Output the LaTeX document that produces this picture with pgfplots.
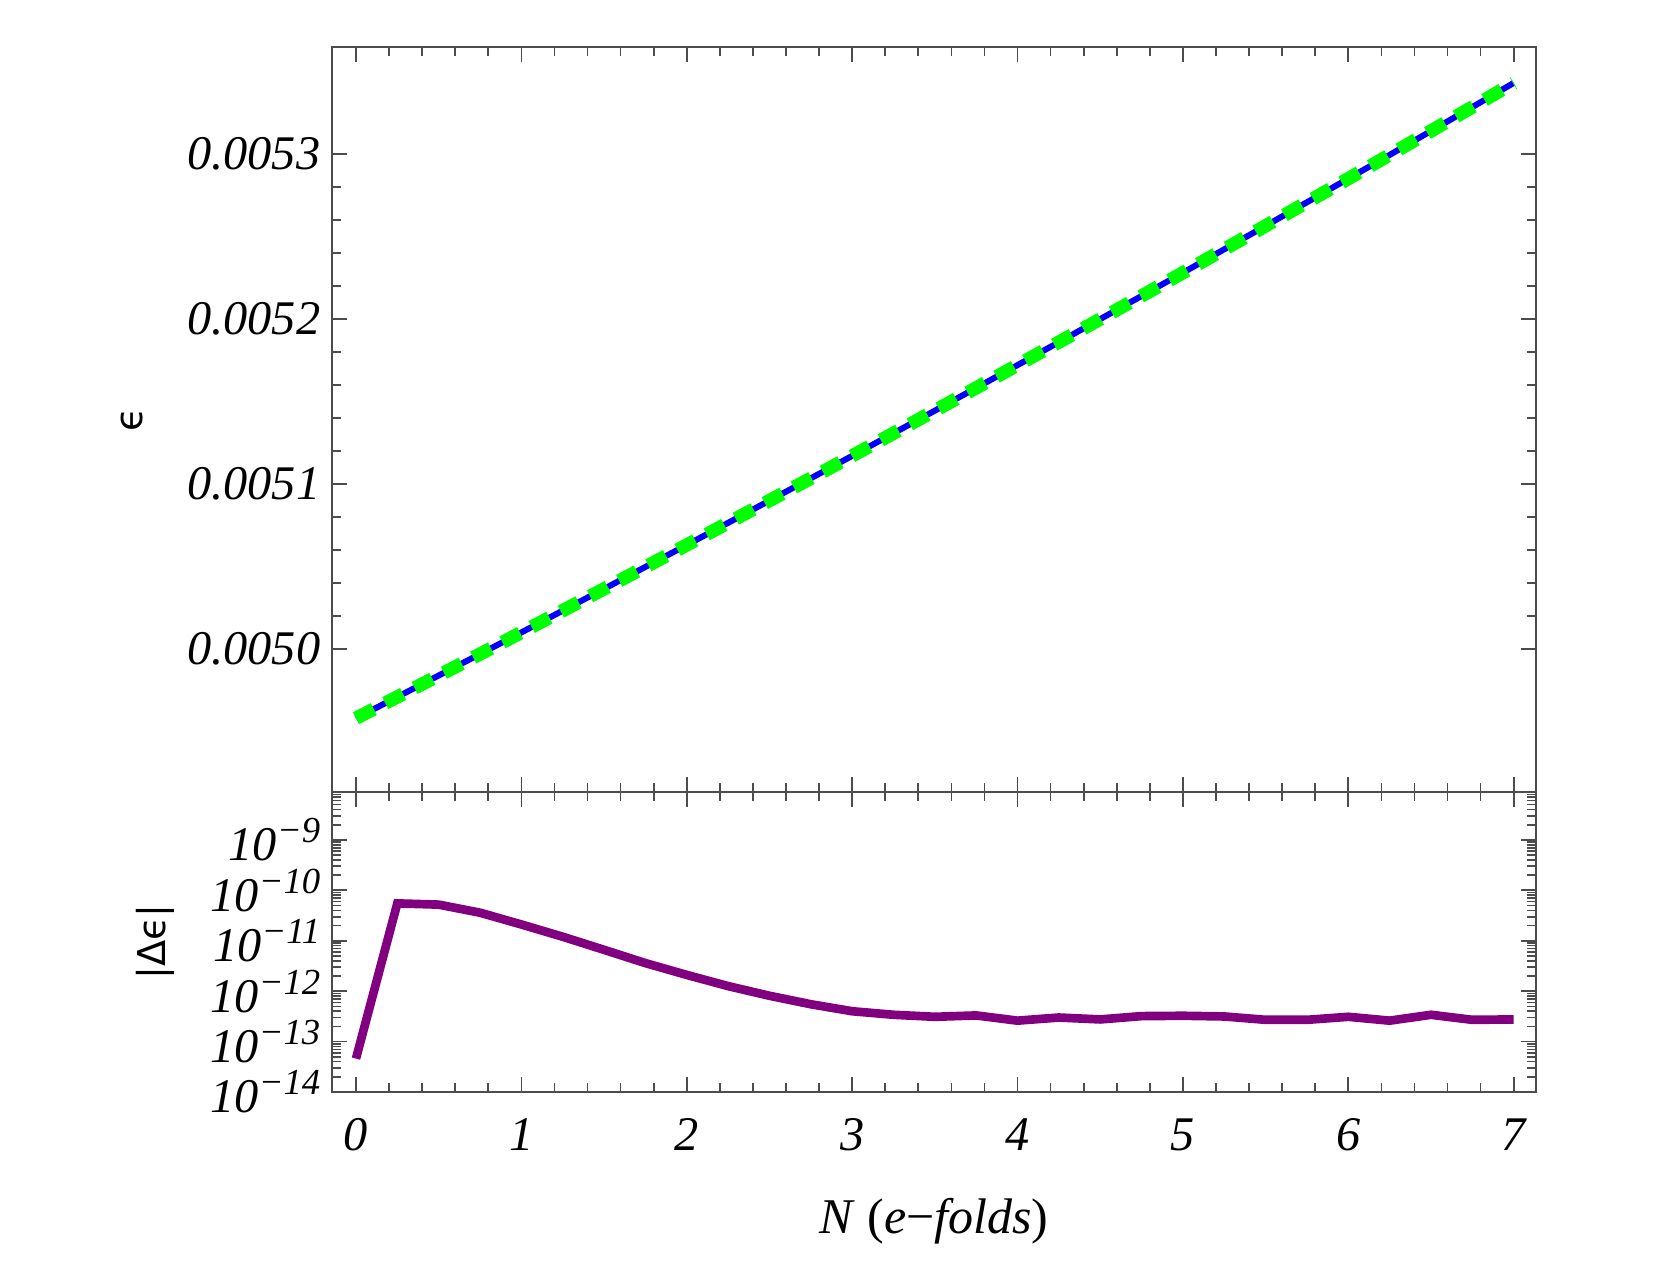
\documentclass[border=0pt]{standalone}
\usepackage{fontspec}
\setmainfont{Liberation Serif}
\newfontfamily\greekfont{DejaVu Sans}
\usepackage{pgfplots}
\pgfplotsset{compat=1.18}

\definecolor{framegray}{gray}{0.3}
\definecolor{epsblue}{rgb}{0,0,1}
\definecolor{epsgreen}{rgb}{0,1,0}
\definecolor{diffpurple}{rgb}{0.5,0,0.5}

\newcommand{\tl}{\fontsize{14.5}{16}\selectfont\itshape}
\newcommand{\pten}[1]{10\raisebox{5.4pt}{\fontsize{11}{12}\selectfont −#1}}

\pgfplotsset{
  panel/.style={
    scale only axis, width=361.2pt, anchor=south west,
    xmin=-0.145, xmax=7.135,
    xtick={0,1,...,7}, minor x tick num=4,
    xtick pos=both, ytick pos=both, tick align=inside,
    axis line style={framegray, line width=0.6pt},
    every tick/.append style={framegray, line width=0.5pt},
    major tick length=4.5pt, minor tick length=2.6pt,
    ticklabel style={font=\tl},
    /pgf/number format/assume math mode=true,
    ylabel style={font=\greekfont\fontsize{11.5}{13}\selectfont, anchor=center},
  }
}

\begin{document}
\begin{tikzpicture}
\useasboundingbox (0,0) rectangle (498.3pt,380.7pt);

% upper panel: epsilon
\begin{axis}[panel,
    at={(99.6pt,143.1pt)}, height=223.5pt,
    ymin=0.0049133, ymax=0.0053648,
    ytick={0.0050,0.0051,0.0052,0.0053},
    yticklabels={0.0050,0.0051,0.0052,0.0053},
    scaled y ticks=false, minor y tick num=4,
    xticklabels={},
    ylabel={ϵ},
    ylabel style={at={(axis description cs:-0.166,0.5)}},
]
\addplot[epsblue, line width=1.8pt] coordinates {
 (0,0.004958) (0.25,0.0049709) (0.5,0.0049839) (0.75,0.0049969)
 (1,0.005010) (1.25,0.0050232) (1.5,0.0050364) (1.75,0.0050497)
 (2,0.005063) (2.25,0.0050764) (2.5,0.0050899) (2.75,0.0051034)
 (3,0.005117) (3.25,0.0051307) (3.5,0.0051444) (3.75,0.0051582)
 (4,0.005172) (4.25,0.0051859) (4.5,0.0051999) (4.75,0.0052139)
 (5,0.005228) (5.25,0.0052422) (5.5,0.0052564) (5.75,0.0052707)
 (6,0.005285) (6.25,0.0052994) (6.5,0.0053139) (6.75,0.0053284)
 (7,0.005343)
};
\addplot[epsgreen, line width=4pt, dash pattern=on 6pt off 3.9pt] coordinates {
 (0,0.004958) (0.25,0.0049709) (0.5,0.0049839) (0.75,0.0049969)
 (1,0.005010) (1.25,0.0050232) (1.5,0.0050364) (1.75,0.0050497)
 (2,0.005063) (2.25,0.0050764) (2.5,0.0050899) (2.75,0.0051034)
 (3,0.005117) (3.25,0.0051307) (3.5,0.0051444) (3.75,0.0051582)
 (4,0.005172) (4.25,0.0051859) (4.5,0.0051999) (4.75,0.0052139)
 (5,0.005228) (5.25,0.0052422) (5.5,0.0052564) (5.75,0.0052707)
 (6,0.005285) (6.25,0.0052994) (6.5,0.0053139) (6.75,0.0053284)
 (7,0.005343)
};
\end{axis}

% lower panel: |delta epsilon|
\begin{axis}[panel,
    at={(99.6pt,53.1pt)}, height=90pt,
    ymode=log, log basis y=10,
    ymin=1e-14, ymax=8.9e-9,
    ytick={1e-14,1e-13,1e-12,1e-11,1e-10,1e-9},
    yticklabels={\pten{14},\pten{13},\pten{12},\pten{11},\pten{10},\pten{9}},
    minor ytick={2e-14,3e-14,4e-14,5e-14,6e-14,7e-14,8e-14,9e-14,
                 2e-13,3e-13,4e-13,5e-13,6e-13,7e-13,8e-13,9e-13,
                 2e-12,3e-12,4e-12,5e-12,6e-12,7e-12,8e-12,9e-12,
                 2e-11,3e-11,4e-11,5e-11,6e-11,7e-11,8e-11,9e-11,
                 2e-10,3e-10,4e-10,5e-10,6e-10,7e-10,8e-10,9e-10,
                 2e-9,3e-9,4e-9,5e-9,6e-9,7e-9,8e-9},
    xticklabel style={yshift=-4.5pt},
    ylabel={|Δϵ|},
    ylabel style={at={(axis description cs:-0.147,0.5)}},
    xlabel={\textit{N} (\textit{e}−\textit{folds})},
    xlabel style={font=\fontsize{15}{17}\selectfont, at={(axis description cs:0.5,-0.43)}, anchor=center},
]
\addplot[diffpurple, line width=2.6pt] coordinates {
 (0,4.6e-14) (0.25,5.5e-11) (0.5,5.2e-11) (0.75,3.6e-11)
 (1,2.1e-11) (1.25,1.2e-11) (1.5,6.6e-12) (1.75,3.6e-12)
 (2,2.1e-12) (2.25,1.26e-12) (2.5,8.1e-13) (2.75,5.5e-13)
 (3,4.0e-13) (3.25,3.4e-13) (3.5,3.1e-13) (3.75,3.3e-13)
 (4,2.6e-13) (4.25,3.0e-13) (4.5,2.75e-13) (4.75,3.2e-13)
 (5,3.25e-13) (5.25,3.15e-13) (5.5,2.7e-13) (5.75,2.7e-13)
 (6,3.1e-13) (6.25,2.6e-13) (6.5,3.4e-13) (6.75,2.7e-13)
 (7,2.75e-13)
};
\end{axis}
\end{tikzpicture}
\end{document}
